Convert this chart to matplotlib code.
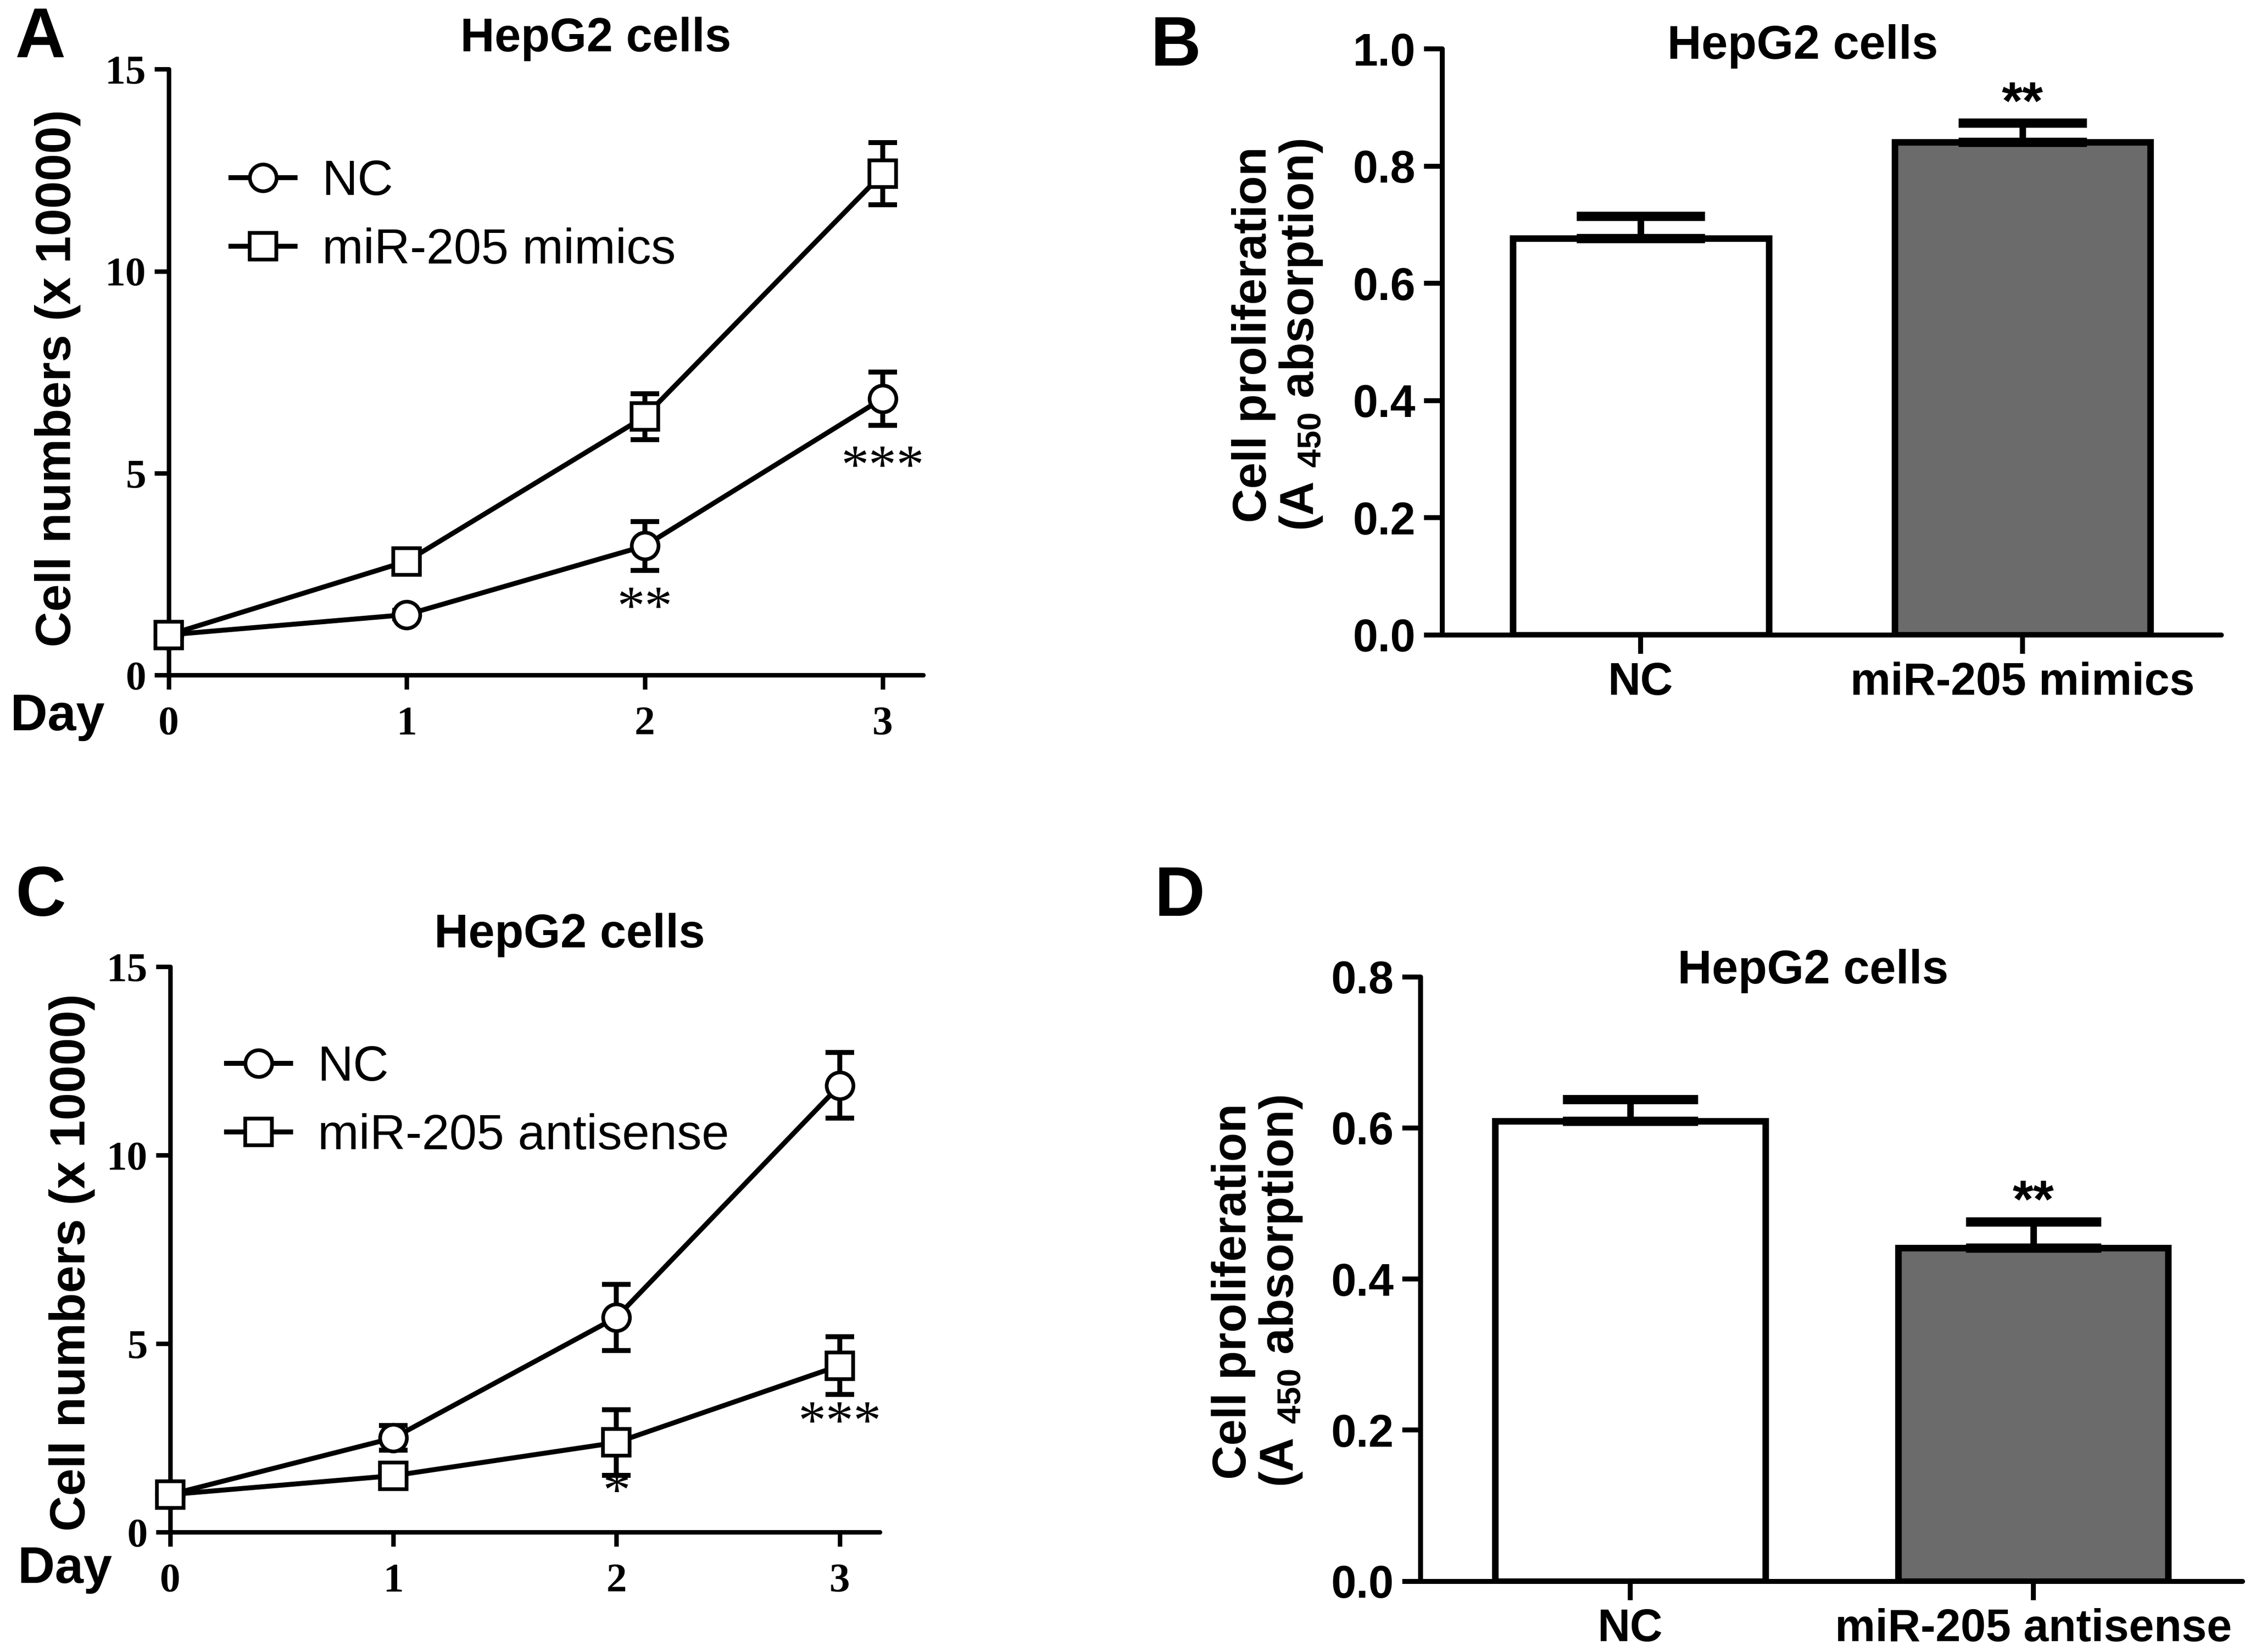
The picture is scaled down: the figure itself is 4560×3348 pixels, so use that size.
import numpy as np
import matplotlib
matplotlib.use("Agg")
import matplotlib.pyplot as plt
from matplotlib import font_manager

# ---- data ----
days = [0, 1, 2, 3]

# panel A
a_nc = [1.0, 1.5, 3.2, 6.85]
a_nc_err = [0.08, 0.1, 0.6, 0.66]
a_mim = [1.0, 2.82, 6.4, 12.42]
a_mim_err = [0.08, 0.1, 0.57, 0.77]
a_stars = [(2, 1.6, "**"), (3, 5.1, "***")]

# panel C
c_nc = [1.0, 2.5, 5.7, 11.85]
c_nc_err = [0.08, 0.33, 0.88, 0.87]
c_anti = [1.0, 1.5, 2.38, 4.42]
c_anti_err = [0.08, 0.1, 0.87, 0.77]
c_stars = [(2, 1.0, "*"), (3, 2.85, "***")]

# panel B
b_groups = ["NC", "miR-205 mimics"]
b_vals = [0.677, 0.841]
b_err = [0.038, 0.033]
b_star = "**"

# panel D
d_groups = ["NC", "miR-205 antisense"]
d_vals = [0.609, 0.441]
d_err = [0.029, 0.035]
d_star = "**"

title = "HepG2 cells"
ylab_line = "Cell numbers (x 10000)"
ylab_bar = "Cell proliferation\n(A $\\mathbf{_{450}}$ absorption)"

names = {f.name for f in font_manager.fontManager.ttflist}
SANS = "Liberation Sans" if "Liberation Sans" in names else "DejaVu Sans"
NARROW = "Liberation Sans Narrow" if "Liberation Sans Narrow" in names else SANS
SERIF = "Liberation Serif" if "Liberation Serif" in names else "DejaVu Serif"

plt.rcParams["font.family"] = SANS
plt.rcParams["mathtext.fontset"] = "custom"
plt.rcParams["mathtext.bf"] = SANS + ":bold"
plt.rcParams["mathtext.rm"] = SANS

W, H = 1560.0, 1145.0  # layout grid (reference thumbnail pixels)


def fx(px):
    return px / W


def fy(py):
    return 1 - py / H


def box(x0, y0, x1, y1):
    return [fx(x0), fy(y1), fx(x1) - fx(x0), (y1 - y0) / H]


def style_axes(ax, lw):
    for s in ("top", "right"):
        ax.spines[s].set_visible(False)
    for s in ("left", "bottom"):
        ax.spines[s].set_linewidth(lw)
        ax.spines[s].set_capstyle("round")
    ax.tick_params(direction="out", width=lw, length=7, color="k")


def line_panel(ax, y1, e1, y2, e2, lab1, lab2, stars, xmax, leg_xy):
    ax.errorbar(days, y1, yerr=e1, fmt="none", ecolor="k", elinewidth=2.4,
                capsize=7, capthick=2.4, clip_on=False, zorder=2)
    ax.errorbar(days, y2, yerr=e2, fmt="none", ecolor="k", elinewidth=2.4,
                capsize=7, capthick=2.4, clip_on=False, zorder=2)
    ax.plot(days, y1, color="k", lw=2.4, marker="o", ms=13, mfc="white",
            mec="k", mew=1.8, label=lab1, clip_on=False, zorder=3)
    ax.plot(days, y2, color="k", lw=2.4, marker="s", ms=13, mfc="white",
            mec="k", mew=1.8, label=lab2, clip_on=False, zorder=4)
    for x, y, s in stars:
        ax.text(x, y, s, ha="center", va="center", fontsize=27,
                family=SERIF, color="k")
    ax.set_xlim(0, xmax)
    ax.set_ylim(0, 15)
    ax.set_xticks(days)
    ax.set_yticks([0, 5, 10, 15])
    style_axes(ax, 2.2)
    for lab in ax.get_xticklabels() + ax.get_yticklabels():
        lab.set_family(SERIF)
        lab.set_fontsize(20)
        lab.set_fontweight("bold")
    ax.tick_params(axis="x", pad=8)
    ax.tick_params(axis="y", pad=4)
    ax.legend(loc="upper left", bbox_to_anchor=leg_xy,
              bbox_transform=ax.figure.transFigure, frameon=False,
              fontsize=24, handlelength=1.3, handletextpad=0.55,
              labelspacing=0.45, borderpad=0)


def bar_panel(ax, groups, vals, errs, star, ymax):
    x = np.arange(len(groups))
    width = 0.67
    ax.bar(x, vals, width=width, color=["white", "#6b6b6b"], edgecolor="k",
           linewidth=3.2, zorder=2)
    ax.set_xlim(-0.52, 1.52)
    ax.set_ylim(0, ymax)
    ax.figure.canvas.draw()
    bb = ax.get_window_extent()
    px_per_unit = bb.width / (ax.get_xlim()[1] - ax.get_xlim()[0])
    cap = 0.25 * width * px_per_unit * 72.0 / ax.figure.dpi
    ax.errorbar(x, vals, yerr=[np.zeros(len(vals)), errs], fmt="none",
                ecolor="k", elinewidth=3.2, capsize=cap, capthick=4.5,
                zorder=3)
    top = np.array(vals) + np.array(errs)
    ax.text(x[1], top[1] + ymax * 0.03, star, ha="center", va="center",
            fontsize=26, fontweight="bold", family=SANS)
    ax.set_xticks(x)
    ax.set_xticklabels(groups)
    ax.set_yticks(np.arange(0, ymax + 0.001, 0.2))
    ax.set_yticklabels(["%.1f" % v for v in np.arange(0, ymax + 0.001, 0.2)])
    style_axes(ax, 2.4)
    ax.tick_params(length=9)
    for lab in ax.get_yticklabels():
        lab.set_family(NARROW)
        lab.set_fontsize(22)
        lab.set_fontweight("bold")
    for lab in ax.get_xticklabels():
        lab.set_family(NARROW)
        lab.set_fontsize(22)
        lab.set_fontweight("bold")
    ax.tick_params(axis="x", pad=4)
    ax.tick_params(axis="y", pad=4)


fig = plt.figure(figsize=(15.2, 11.16), dpi=300)
fig.patch.set_facecolor("white")

# panel A
axA = fig.add_axes(box(117, 48, 640, 468))
line_panel(axA, a_nc, a_nc_err, a_mim, a_mim_err, "NC", "miR-205 mimics",
           a_stars, 3.17, (fx(143), fy(93)))

# panel B
axB = fig.add_axes(box(1000, 34, 1540, 440))
bar_panel(axB, b_groups, b_vals, b_err, b_star, 1.0)

# panel C
axC = fig.add_axes(box(118, 670, 610, 1062))
line_panel(axC, c_nc, c_nc_err, c_anti, c_anti_err, "NC", "miR-205 antisense",
           c_stars, 3.18, (fx(140), fy(707)))

# panel D
axD = fig.add_axes(box(985, 677, 1555, 1096))
bar_panel(axD, d_groups, d_vals, d_err, d_star, 0.8)

# titles
for (px, py) in [(413, 27), (1250, 32), (395, 648), (1257, 673)]:
    fig.text(fx(px), fy(py), title, ha="center", va="center", fontsize=23,
             fontweight="bold")

# panel letters
for (px, py, s) in [(28, 27, "A"), (815, 33, "B"), (28, 622, "C"), (818, 622, "D")]:
    fig.text(fx(px), fy(py), s, ha="center", va="center", fontsize=34,
             fontweight="bold")

# "Day" labels
fig.text(fx(40), fy(497), "Day", ha="center", va="center", fontsize=25,
         fontweight="bold")
fig.text(fx(45), fy(1088), "Day", ha="center", va="center", fontsize=25,
         fontweight="bold")

# y labels
fig.text(fx(40), fy(262), ylab_line, rotation=90, ha="center", va="center",
         fontsize=24, fontweight="bold")
fig.text(fx(50), fy(875), ylab_line, rotation=90, ha="center", va="center",
         fontsize=24, fontweight="bold")
fig.text(fx(886), fy(232), ylab_bar, rotation=90, ha="center", va="center",
         fontsize=23, fontweight="bold", linespacing=1.05)
fig.text(fx(872), fy(895), ylab_bar, rotation=90, ha="center", va="center",
         fontsize=23, fontweight="bold", linespacing=1.05)

fig.savefig("out.png", dpi=300, facecolor="white")
